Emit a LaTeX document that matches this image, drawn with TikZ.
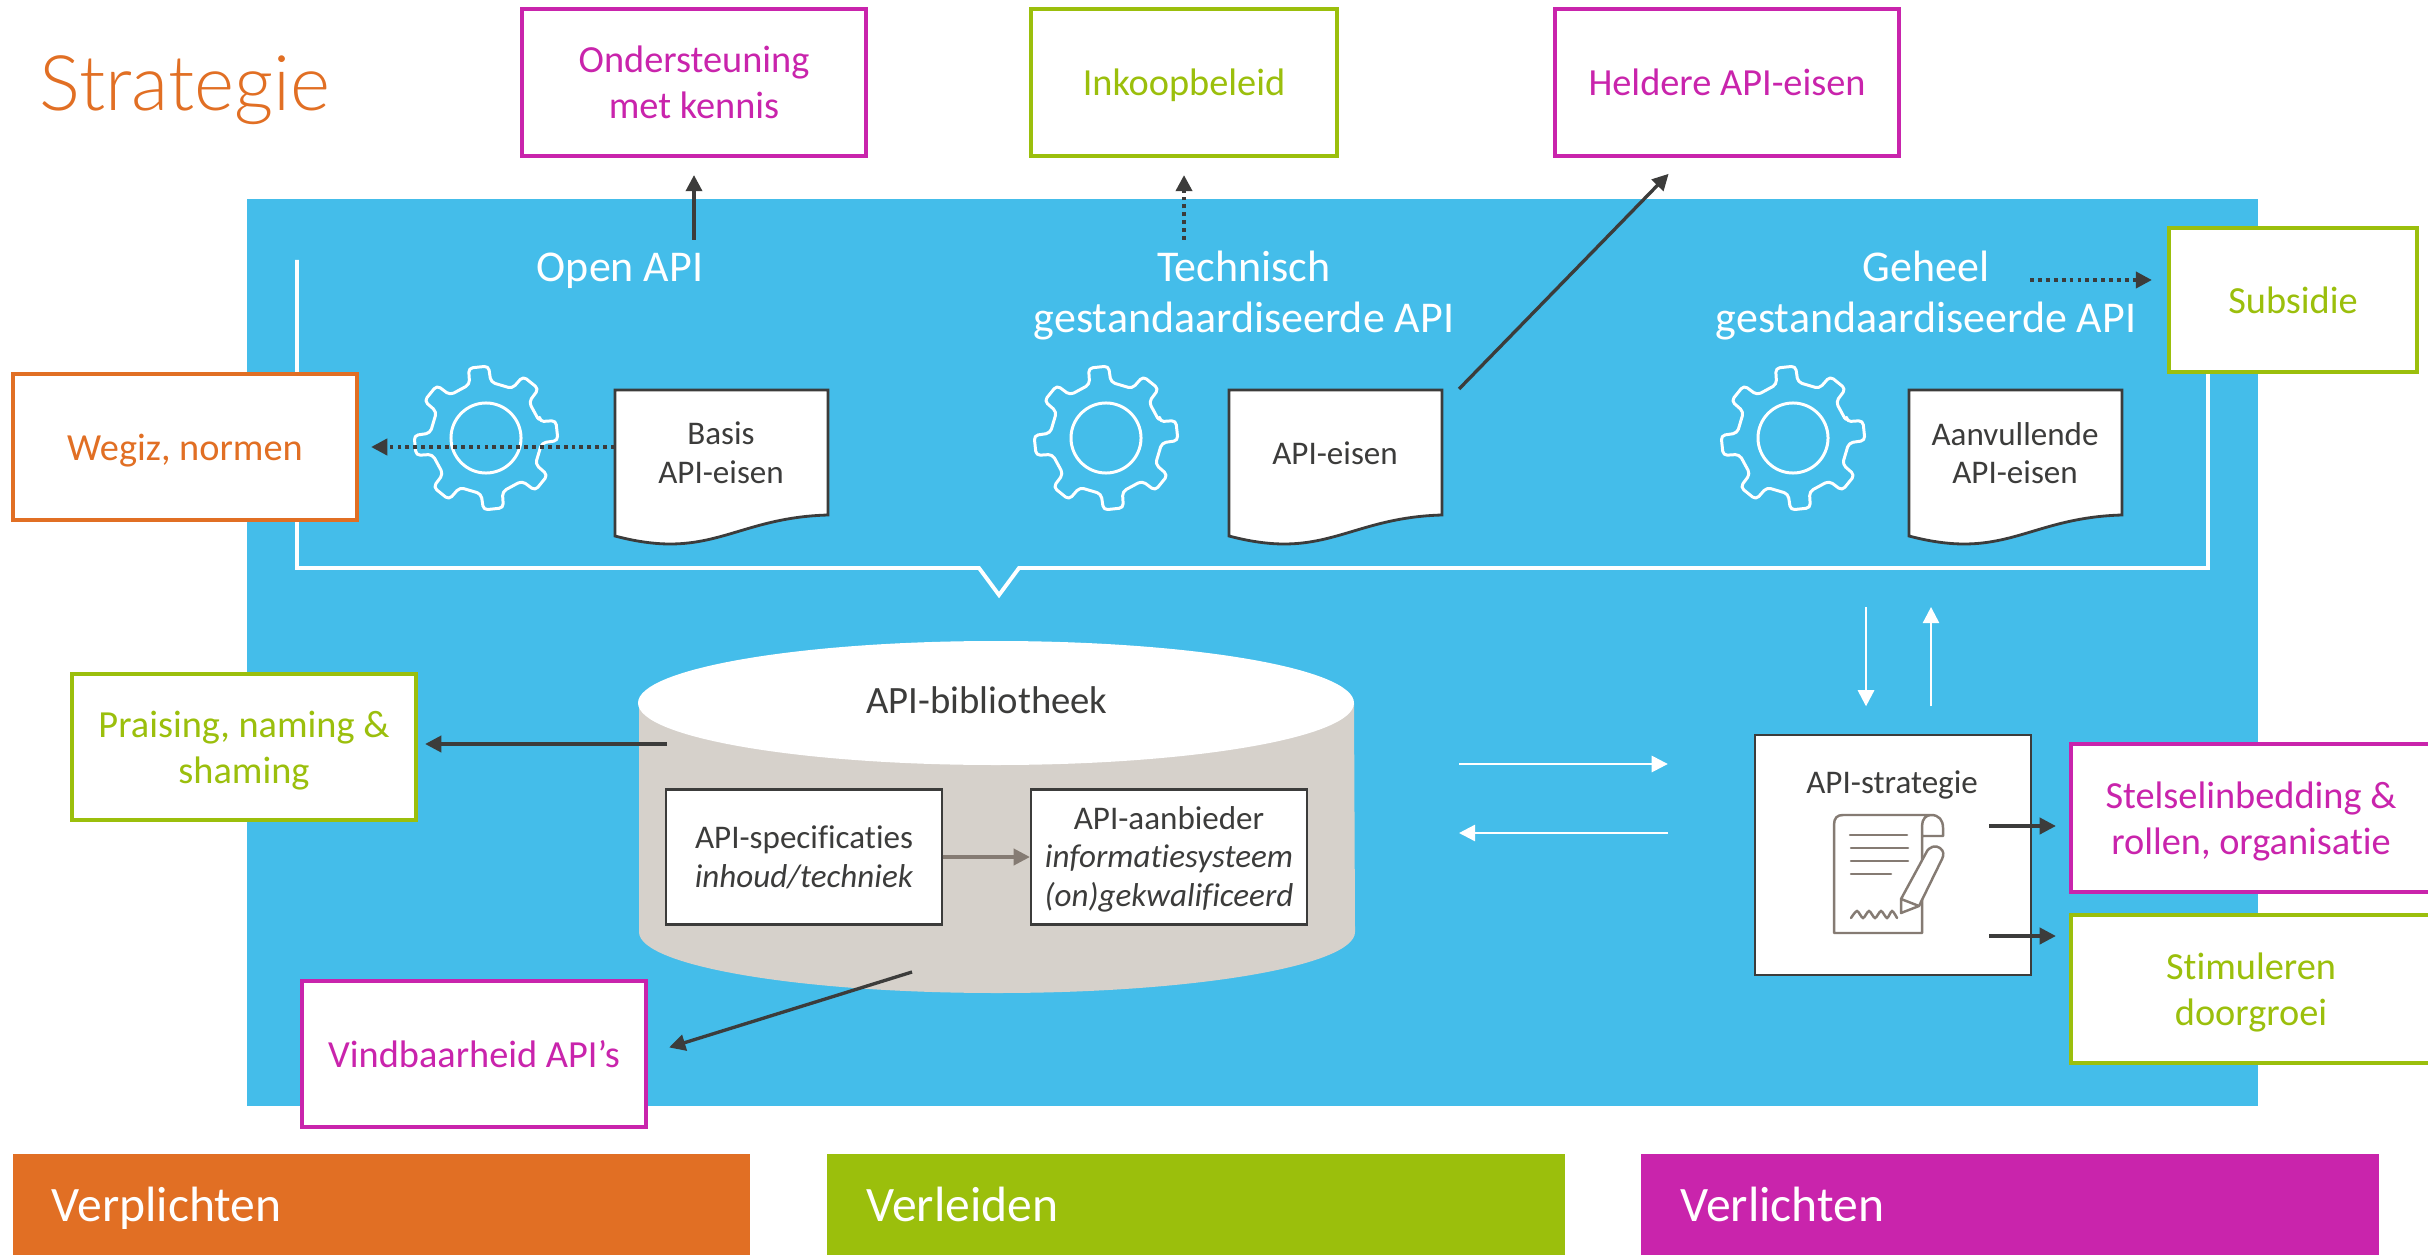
\documentclass[tikz,border=0pt]{standalone}
\usepackage{fontspec}
\setmainfont[Ligatures=NoCommon]{Carlito}
\newfontfamily\lightfont{Lato Light}
\usetikzlibrary{arrows.meta}
\definecolor{apiblue}{HTML}{44BDEA}
\definecolor{apiorange}{HTML}{E16F24}
\definecolor{apigreen}{HTML}{9BBF0C}
\definecolor{apipurple}{HTML}{C924AC}
\definecolor{apidark}{HTML}{3C3C3B}
\definecolor{apisand}{HTML}{D6D1CB}
\definecolor{apitaupe}{HTML}{857B73}
\tikzset{
  boxtext/.style={font=\fontsize{10.9}{13}\selectfont,align=center,text depth=-0.5pt},
  smalltext/.style={font=\fontsize{9.4}{11}\selectfont,align=center,text=apidark},
  toptext/.style={font=\fontsize{12.5}{14.5}\selectfont,align=center,text=white},
  orangebox/.style={boxtext,shape=rectangle,draw=apiorange,fill=white,text=apiorange,line width=1.15pt},
  greenbox/.style={boxtext,shape=rectangle,draw=apigreen,fill=white,text=apigreen,line width=1.15pt},
  purplebox/.style={boxtext,shape=rectangle,draw=apipurple,fill=white,text=apipurple,line width=1.15pt},
  whitebox/.style={smalltext,shape=rectangle,draw=apidark,fill=white,line width=0.6pt,inner sep=0pt,text depth=0.3pt},
  barbox/.style={shape=rectangle,inner sep=0pt,text=white,minimum width=7.37cm,minimum height=1.01cm,font=\fontsize{14.1}{16}\selectfont,text width=6.59cm,text depth=-2pt},
  darrow/.style={-{Triangle[length=4.6pt,width=4.6pt]},draw=apidark,line width=0.95pt},
  dotarrow/.style={darrow,dash pattern=on 1.1pt off 1.15pt,line width=1.05pt},
  warrow/.style={-{Triangle[length=4.6pt,width=4.6pt]},draw=white,line width=0.7pt},
  gearline/.style={draw=white,line width=0.85pt,line join=round},
  paperline/.style={draw=apidark,fill=white,line width=0.8pt},
  iconline/.style={draw=apitaupe,line width=0.7pt}
}
\newcommand{\gearicon}[1]{
  \draw[gearline,rounded corners=1.2pt,shift={(#1)}] (-17:56) foreach \t in {-6,39,84,129,174,219,264,309} { -- (\t-11:56) -- (\t-8:72) -- (\t+8:72) -- (\t+11:56) } -- cycle;
  \draw[gearline] (#1) circle [radius=0.35cm];
}
\newcommand{\papersheet}[1]{
  \draw[paperline,shift={(#1,390)}] (0,0) -- (213,0) -- (213,125) .. controls (140,127) and (110,154) .. (55,154) .. controls (35,154) and (15,150) .. (0,146) -- cycle;
}
\begin{document}
\begin{tikzpicture}[x=0.01cm,y=-0.01cm]
\useasboundingbox (0,0) rectangle (2428,1255);
\fill[apiblue] (247,199) rectangle (2258,1106);

\node[anchor=west,text=apiorange,font=\lightfont\fontsize{21.8}{28}\selectfont,inner sep=0pt] (titel) at (39,90) {Strategie};

\node[purplebox,minimum width=3.44cm,minimum height=1.47cm] (kennis) at (694,82.5) {Ondersteuning\\met kennis};
\node[greenbox,minimum width=3.05cm,minimum height=1.47cm] (inkoop) at (1184,82.5) {Inkoopbeleid};
\node[purplebox,minimum width=3.44cm,minimum height=1.47cm] (eisen) at (1727,82.5) {Heldere API-eisen};

\draw[white,line width=1.1pt] (297,260) -- (297,568) -- (979,568) -- (999,595) -- (1019,568) -- (2208,568) -- (2208,372);

\node[toptext] (openapi) at (620,271) {Open API};
\node[toptext] (technisch) at (1244,296) {Technisch\\gestandaardiseerde API};
\node[toptext] (geheel) at (1926,296) {Geheel\\gestandaardiseerde API};

\gearicon{486,438}
\gearicon{1106,438}
\gearicon{1793,438}

\papersheet{615}
\papersheet{1229}
\papersheet{1909}
\node[smalltext] (basis) at (721,453) {Basis\\API-eisen};
\node[smalltext] (apieisen) at (1335,453) {API-eisen};
\node[smalltext] (aanvullend) at (2015,453) {Aanvullende\\API-eisen};

\node[greenbox,minimum width=2.48cm,minimum height=1.44cm] (subsidie) at (2293,300) {Subsidie};
\node[orangebox,minimum width=3.44cm,minimum height=1.46cm] (wegiz) at (185,447) {Wegiz, normen};

\fill[apisand] (639,703) -- (639,932) arc [start angle=180,end angle=360,x radius=358,y radius=-61] -- (1354,703) -- cycle;
\fill[white] (996,703) ellipse [x radius=358,y radius=62];
\node[font=\fontsize{11}{13}\selectfont,text=apidark] (bieb) at (987,700) {API-bibliotheek};
\node[whitebox,minimum width=2.75cm,minimum height=1.35cm] (spec) at (804,857) {API-specificaties\\\textit{inhoud/techniek}};
\node[whitebox,minimum width=2.76cm,minimum height=1.35cm] (aanbieder) at (1169,857) {API-aanbieder\\\textit{informatiesysteem}\\\textit{(on)gekwalificeerd}};
\path (spec) edge[-{Triangle[length=4.6pt,width=4.6pt]},draw=apitaupe,line width=0.95pt] (aanbieder);

\node[greenbox,minimum width=3.44cm,minimum height=1.45cm] (praising) at (244,747) {Praising, naming \&\\shaming};
\node[purplebox,minimum width=3.44cm,minimum height=1.46cm] (vindbaar) at (474,1054) {Vindbaarheid API’s};

\node[whitebox,minimum width=2.76cm,minimum height=2.39cm] (strategie) at (1893,855) {};
\node[smalltext] (stratlabel) at (1892,785) {API-strategie};
\node[purplebox,minimum width=3.6cm,minimum height=1.48cm] (stelsel) at (2251,818) {Stelselinbedding \&\\rollen, organisatie};
\node[greenbox,minimum width=3.6cm,minimum height=1.47cm] (doorgroei) at (2251,989) {Stimuleren\\doorgroei};

\draw[iconline,line join=round] (1922,836) -- (1922,933) -- (1834,933) -- (1834,825) .. controls (1834,818) and (1837,815) .. (1843,815) -- (1931,815) .. controls (1939,815) and (1943,820) .. (1943,828) -- (1943,836) -- (1922,836) -- (1922,826) .. controls (1922,819) and (1926,815) .. (1931,815);
\draw[iconline,line cap=round] (1850,835) -- (1907,835) (1851,848) -- (1908,848) (1851,861) -- (1908,861) (1851,874) -- (1891,874);
\draw[iconline,fill=white,line join=round] (1901,913) -- (1901,899) -- (1926,853) .. controls (1929,846) and (1936,845) .. (1940,848) .. controls (1944,851) and (1944,855) .. (1942,859) -- (1919,906) -- cycle (1901,899) -- (1919,906);
\draw[iconline,line cap=round] plot[smooth] coordinates {(1851,918) (1857,911) (1863,918) (1869,911) (1875,918) (1881,911) (1887,918) (1892,911) (1897,918)};

\coordinate (openvoet) at (694,240);
\coordinate (technvoet) at (1184,240);
\coordinate (eisenvoet) at (1459,389);
\coordinate (geheelpunt) at (2030,280);
\coordinate (basispunt) at (615,447);
\coordinate (biebpunt) at (667,744);
\coordinate (biebvoet) at (912,972);
\coordinate (biebheen) at (1459,764);
\coordinate (biebterug) at (1459,833);
\coordinate (stratneer) at (1866,607);
\coordinate (stratop) at (1931,607);
\coordinate (stratboven) at (1989,826);
\coordinate (stratonder) at (1989,936);

\path (openvoet) edge[darrow,shorten >=0.17cm] (kennis);
\path (technvoet) edge[dotarrow,shorten >=0.17cm] (inkoop);
\path (eisenvoet) edge[darrow,shorten >=0.22cm] ([xshift=-0.43cm]eisen.south);
\path (geheelpunt) edge[dotarrow,shorten >=0.15cm] (geheelpunt -| subsidie.west);
\path (basispunt) edge[dotarrow,shorten >=0.12cm] (basispunt -| wegiz.east);
\path (biebpunt) edge[darrow,shorten >=0.07cm] (biebpunt -| praising.east);
\path (biebvoet) edge[darrow,shorten >=0.22cm] (vindbaar.east);
\path (biebheen) edge[warrow,shorten >=0.86cm] (biebheen -| strategie.west);
\path (biebterug -| strategie.west) edge[warrow,shorten <=0.86cm] (biebterug);
\path (stratneer) edge[warrow,shorten >=0.28cm] (stratneer |- strategie.north);
\path (stratop |- strategie.north) edge[warrow,shorten <=0.28cm] (stratop);
\path (stratboven) edge[darrow,shorten >=0.13cm] (stratboven -| stelsel.west);
\path (stratonder) edge[darrow,shorten >=0.13cm] (stratonder -| doorgroei.west);

\node[barbox,fill=apiorange] (verplichten) at (381.5,1204.5) {Verplichten};
\node[barbox,fill=apigreen] (verleiden) at (1196,1204.5) {Verleiden};
\node[barbox,fill=apipurple] (verlichten) at (2010,1204.5) {Verlichten};
\end{tikzpicture}
\end{document}
